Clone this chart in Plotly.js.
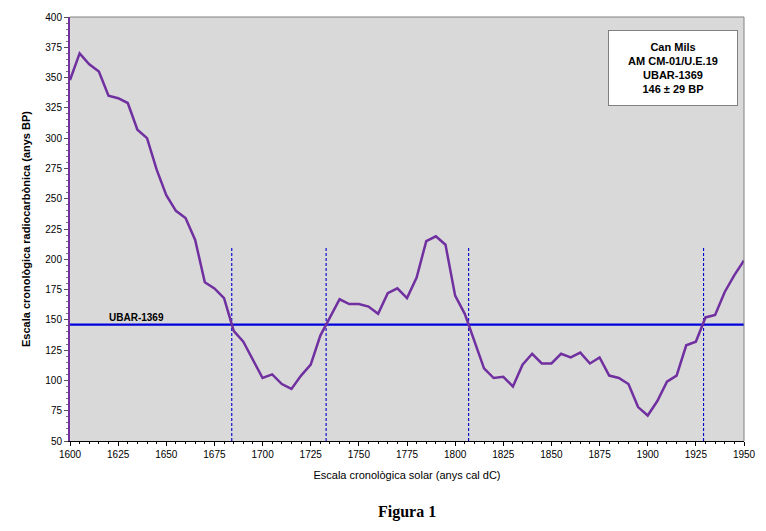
<!DOCTYPE html>
<html><head><meta charset="utf-8">
<script src="https://cdn.plot.ly/plotly-3.0.1.min.js"></script>
<style>body{margin:0;background:#fff}#c{width:766px;height:531px}</style>
</head><body><div id="c"></div>
<script>
const years = [1600,1605,1610,1615,1620,1625,1630,1635,1640,1645,1650,1655,1660,1665,1670,1675,1680,1685,1690,1695,1700,1705,1710,1715,1720,1725,1730,1735,1740,1745,1750,1755,1760,1765,1770,1775,1780,1785,1790,1795,1800,1805,1810,1815,1820,1825,1830,1835,1840,1845,1850,1855,1860,1865,1870,1875,1880,1885,1890,1895,1900,1905,1910,1915,1920,1925,1930,1935,1940,1945,1950];
const bp = [348,370,361,355,335,333,329,307,300,274,253,240,234,216,181,176,168,141,132,117,102,105,97,93,104,113,137,152,167,163,163,161,155,172,176,168,185,215,219,212,170,155,133,110,102,103,95,113,122,114,114,122,119,123,114,119,104,102,97,78,71,83,99,104,129,132,152,154,173,187,199];
const sampleBP = 146;
const sampleLabel = "UBAR-1369";
const intercepts = [1684, 1733, 1807, 1929];
const interceptTop = 211;
const infoLines = ["Can Mils","AM CM-01/U.E.19","UBAR-1369","146 ± 29 BP"];
const xTicks = [1600,1625,1650,1675,1700,1725,1750,1775,1800,1825,1850,1875,1900,1925,1950];
const yTicks = [50,75,100,125,150,175,200,225,250,275,300,325,350,375,400];

const font = "Liberation Sans, Arial, sans-serif";
const traces = [];
intercepts.forEach(x => traces.push({x:[x,x], y:[50, interceptTop], mode:'lines', line:{color:'#0000cc', width:1.1, dash:'3px,2px'}, hoverinfo:'skip', showlegend:false}));
traces.push({x:[1600,1950], y:[sampleBP,sampleBP], mode:'lines', line:{color:'#0000dd', width:2.2}, showlegend:false});
traces.push({x:years, y:bp, mode:'lines', line:{color:'#7030a0', width:2.5}, showlegend:false});

const layout = {
  width:766, height:531,
  margin:{l:70, r:22, t:17, b:90},
  paper_bgcolor:'#ffffff', plot_bgcolor:'#d9d9d9',
  font:{family:font, size:10, color:'#000'},
  xaxis:{range:[1600,1950], tickvals:xTicks, ticks:'outside', ticklen:4, tickcolor:'#000',
    showgrid:false, zeroline:false, showline:true, linecolor:'#000', linewidth:1, mirror:false,
    minor:{dtick:5, ticks:'outside', ticklen:2, tickcolor:'#000'},
    title:{text:'Escala cronològica solar (anys cal dC)', font:{size:11, family:font}, standoff:12},
    tickfont:{size:10, family:font}},
  yaxis:{range:[50,400], tickvals:yTicks, ticks:'outside', ticklen:4, tickcolor:'#555',
    showgrid:false, zeroline:false, showline:true, linecolor:'#7030a0', linewidth:2,
    minor:{dtick:5, ticks:'outside', ticklen:2, tickcolor:'#777'},
    title:{text:'<b>Escala cronològica radiocarbònica (anys BP)</b>', font:{size:11, family:font}, standoff:12},
    tickfont:{size:10, family:font}},
  shapes:[
    {type:'line', xref:'paper', yref:'paper', x0:0, x1:1, y0:1, y1:1, line:{color:'#808080', width:1}},
    {type:'line', xref:'paper', yref:'paper', x0:1, x1:1, y0:0, y1:1, line:{color:'#808080', width:1}}
  ],
  annotations:[
    {x:1619, y:sampleBP, xref:'x', yref:'y', text:'<b>'+sampleLabel+'</b>', showarrow:false, xanchor:'left', yanchor:'bottom', yshift:0, font:{size:10, family:font}},
    {x:0.991, y:0.969, xref:'paper', yref:'paper', xanchor:'right', yanchor:'top', showarrow:false,
     text:infoLines.map(s=>'<b>'+s+'</b>').join('<br>'), align:'center', valign:'middle',
     bgcolor:'#ffffff', bordercolor:'#808080', borderwidth:1, borderpad:8, width:112, height:58,
     font:{size:11, family:font}},
    {x:0.5, y:0, xref:'paper', yref:'paper', yshift:-71, xanchor:'center', yanchor:'middle', showarrow:false,
     text:'<b>Figura 1</b>', font:{size:16, family:'Liberation Serif, Times New Roman, serif'}}
  ]
};
Plotly.newPlot('c', traces, layout, {displayModeBar:false, staticPlot:true});
</script></body></html>
